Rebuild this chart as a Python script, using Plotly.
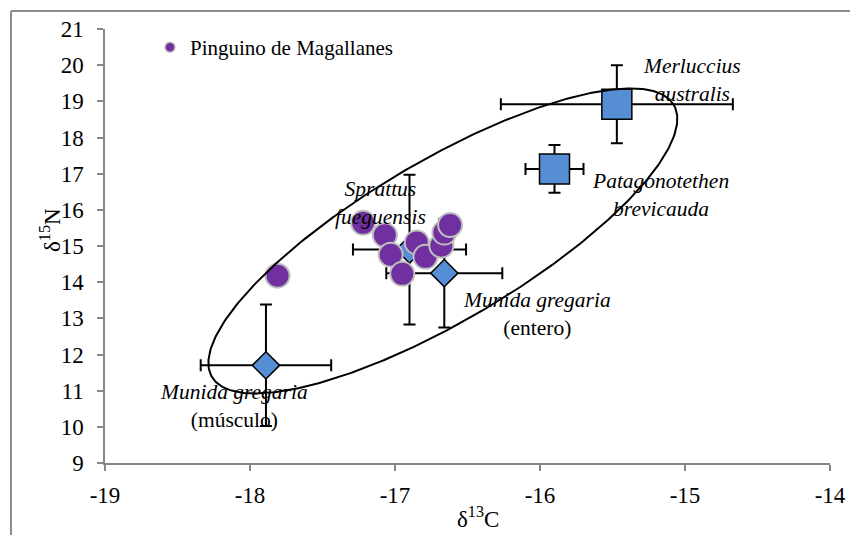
import numpy as np
import plotly.graph_objects as go

# ---- data -------------------------------------------------------------
# Prey species: mean d13C / d15N with standard deviations
prey_names = ["Merluccius australis", "Patagonotethen brevicauda", "Sprattus fueguensis",
              "Munida gregaria (entero)", "Munida gregaria (músculo)"]
prey_c13 = [-15.47, -15.90, -16.90, -16.66, -17.89]
prey_n15 = [18.92, 17.13, 14.90, 14.25, 11.70]
prey_c13_sd = [0.80, 0.20, 0.39, 0.40, 0.45]
prey_n15_sd = [1.08, 0.66, 2.07, 1.50, 1.68]
prey_symbols = ["square", "square", "diamond", "diamond", "diamond"]
prey_sizes = [30, 30, 21, 21, 21]

# Magellanic penguin individual values
peng_c13 = [-17.81, -17.22, -17.07, -17.03, -16.95, -16.85, -16.79, -16.68, -16.66, -16.62]
peng_n15 = [14.18, 15.64, 15.30, 14.76, 14.23, 15.10, 14.70, 15.01, 15.37, 15.58]

# Species labels (text, anchor x, anchor y)
label_texts = ["<i>Merluccius<br>australis</i>",
               "<i>Patagonotethen<br>brevicauda</i>",
               "<i>Sprattus<br>fueguensis</i>",
               "<i>Munida gregaria</i><br>(entero)",
               "<i>Munida gregaria</i><br>(músculo)"]
label_x = [-14.95, -15.17, -17.10, -16.02, -18.11]
label_y = [19.58, 16.40, 16.20, 13.11, 10.58]

x_ticks = [-19, -18, -17, -16, -15, -14]
x_tick_text = ["-19", "-18", "-17", "-16", "-15", "-14"]
y_ticks = list(range(9, 22))

# ---- layout geometry --------------------------------------------------
W, H = 850, 535
ML, MR, MT, MB = 105, 20, 29, 72
X_RANGE = [-19, -14]
Y_RANGE = [9, 21]
px_per_x = (W - ML - MR) / (X_RANGE[1] - X_RANGE[0])
px_per_y = (H - MT - MB) / (Y_RANGE[1] - Y_RANGE[0])

FONT = "Liberation Serif, Times New Roman, serif"
BLUE = "#558ED5"
PURPLE = "#7030A0"
AXIS_GREY = "#868686"
PENG_OUTLINE = "#BFBFBF"

fig = go.Figure()

# error bars first so the markers sit on top of them
fig.add_trace(go.Scatter(
    x=prey_c13, y=prey_n15, mode="markers", showlegend=False, hoverinfo="skip",
    marker=dict(size=1, opacity=0),
    error_x=dict(type="data", array=prey_c13_sd, color="black", thickness=2, width=6),
    error_y=dict(type="data", array=prey_n15_sd, color="black", thickness=2, width=6),
))

# prey means
fig.add_trace(go.Scatter(
    x=prey_c13, y=prey_n15, mode="markers", showlegend=False,
    text=prey_names, hoverinfo="text+x+y",
    marker=dict(symbol=prey_symbols, size=prey_sizes, color=BLUE, opacity=1,
                line=dict(color="black", width=1.5)),
))

# penguins (legend entry uses a smaller swatch)
fig.add_trace(go.Scatter(
    x=peng_c13, y=peng_n15, mode="markers", name="Pinguino de Magallanes",
    legendgroup="peng", showlegend=False,
    marker=dict(symbol="circle", size=24, color=PURPLE, opacity=1,
                line=dict(color=PENG_OUTLINE, width=2)),
))
fig.add_trace(go.Scatter(
    x=[None], y=[None], mode="markers", name="Pinguino de Magallanes",
    legendgroup="peng", hoverinfo="skip",
    marker=dict(symbol="circle", size=10, color=PURPLE,
                line=dict(color=PENG_OUTLINE, width=1.5)),
))

# confidence ellipse drawn in screen space (center, semi-axes in px, tilt)
ell_cx, ell_cy = -16.67, 15.14
ell_a, ell_b, ell_tilt = 268.0, 80.0, np.deg2rad(30.5)
t = np.linspace(0, 2 * np.pi, 400)
dx_px = ell_a * np.cos(t) * np.cos(ell_tilt) - ell_b * np.sin(t) * np.sin(ell_tilt)
dy_px = ell_a * np.cos(t) * np.sin(ell_tilt) + ell_b * np.sin(t) * np.cos(ell_tilt)
fig.add_trace(go.Scatter(
    x=ell_cx + dx_px / px_per_x, y=ell_cy + dy_px / px_per_y,
    mode="lines", line=dict(color="black", width=2), showlegend=False,
    hoverinfo="skip",
))

for txt, lx, ly in zip(label_texts, label_x, label_y):
    fig.add_annotation(x=lx, y=ly, text=txt, showarrow=False, align="center",
                       xanchor="center", yanchor="middle",
                       font=dict(family=FONT, size=21.5, color="black"))

# axis titles
plot_w = W - ML - MR
plot_h = H - MT - MB
fig.add_annotation(xref="paper", yref="paper",
                   x=(478 - ML) / plot_w, y=(H - MB - 517) / plot_h,
                   text="δ<sup>13</sup>C", showarrow=False,
                   xanchor="center", yanchor="middle",
                   font=dict(family=FONT, size=23, color="black"))
fig.add_annotation(xref="paper", yref="paper",
                   x=(50 - ML) / plot_w, y=(H - MB - 230) / plot_h,
                   text="δ<sup>15</sup>N", showarrow=False, textangle=-90,
                   xanchor="center", yanchor="middle",
                   font=dict(family=FONT, size=23, color="black"))

# outer chart frame (top and left edges visible)
fx0 = (11 - ML) / plot_w
fy0 = (H - MB - 11) / plot_h
fig.add_shape(type="line", xref="paper", yref="paper",
              x0=fx0, x1=(W + 5 - ML) / plot_w, y0=fy0, y1=fy0,
              line=dict(color="#8C8C8C", width=2))
fig.add_shape(type="line", xref="paper", yref="paper",
              x0=fx0, x1=fx0, y0=fy0, y1=(H - MB - H - 5) / plot_h,
              line=dict(color="#8C8C8C", width=2))

axis_common = dict(showgrid=False, zeroline=False, showline=True, automargin=False,
                   linecolor=AXIS_GREY, linewidth=1.5,
                   ticks="outside", tickcolor=AXIS_GREY, ticklen=6, tickwidth=1.5,
                   tickfont=dict(family=FONT, size=23, color="black"))

fig.update_layout(
    width=W, height=H,
    margin=dict(l=ML, r=MR, t=MT, b=MB, autoexpand=False),
    paper_bgcolor="white", plot_bgcolor="white",
    xaxis=dict(range=X_RANGE, tickvals=x_ticks, ticktext=x_tick_text,
               ticklabelstandoff=5, **axis_common),
    yaxis=dict(range=Y_RANGE, tickvals=y_ticks, ticklabelstandoff=9, **axis_common),
    showlegend=True,
    legend=dict(x=(150 - ML) / plot_w, y=(H - MB - 27) / plot_h,
                xanchor="left", yanchor="top", bgcolor="rgba(0,0,0,0)",
                font=dict(family=FONT, size=21, color="black")),
    font=dict(family=FONT),
)

fig.write_html("out.html")
